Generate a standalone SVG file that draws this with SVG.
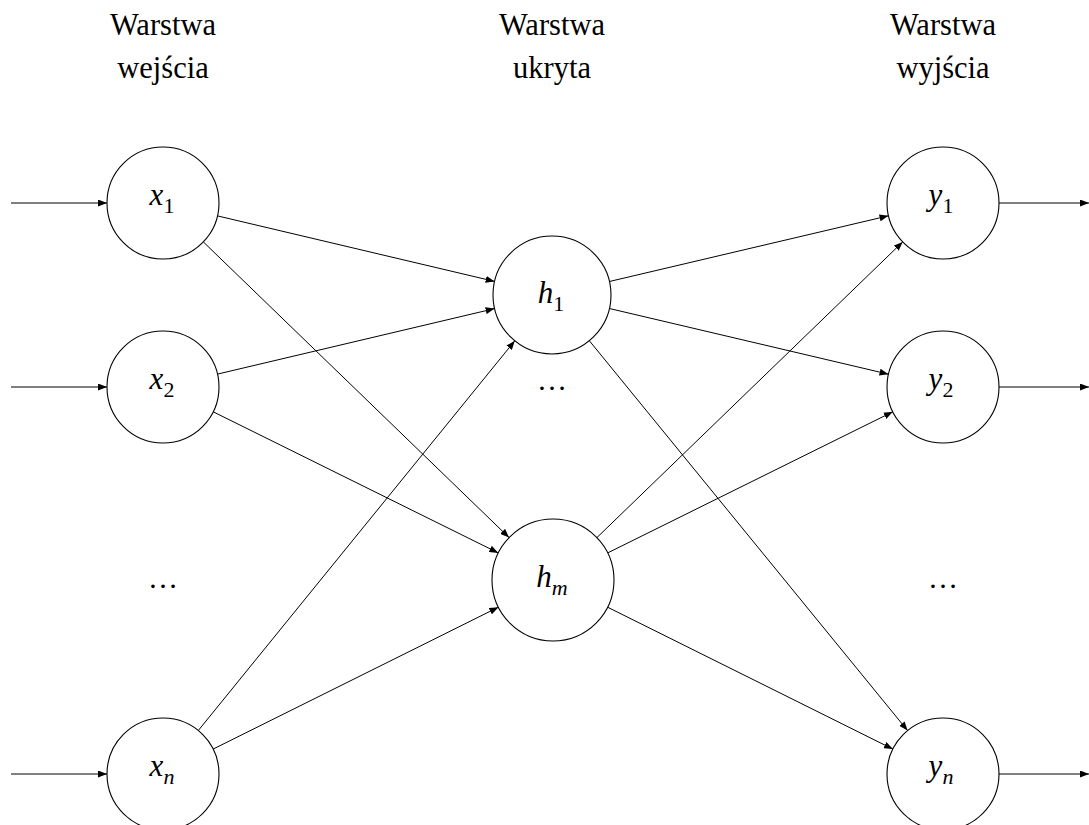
<svg xmlns="http://www.w3.org/2000/svg" width="1089" height="825" viewBox="0 0 1089 825">
<style>
.node{fill:#fff;stroke:#000;stroke-width:1.1}
.edge{stroke:#000;stroke-width:1;fill:none;marker-end:url(#arr)}
.hdr{font-family:'Liberation Serif','Times New Roman',serif;font-size:30.5px;text-anchor:middle;fill:#000}
.m{font-family:'Liberation Serif','Times New Roman',serif;font-style:italic;font-size:31px;text-anchor:middle;fill:#000}
.sub{font-style:normal;font-size:22px}
.msub{font-style:italic;font-size:22px}
.dots{font-family:'Liberation Serif','Times New Roman',serif;font-size:30px;text-anchor:middle;fill:#000}
</style>
<defs>
<marker id="arr" markerUnits="userSpaceOnUse" markerWidth="9" markerHeight="7" refX="9" refY="3.5" orient="auto">
<path d="M0,0 L9,3.5 L0,7 z" fill="#000"/>
</marker>
</defs>
<rect width="1089" height="825" fill="#fff"/>
<g id="headers">
<text class="hdr" x="163" y="35">Warstwa</text>
<text class="hdr" x="163" y="78">wejścia</text>
<text class="hdr" x="552" y="35">Warstwa</text>
<text class="hdr" x="552" y="78">ukryta</text>
<text class="hdr" x="943" y="35">Warstwa</text>
<text class="hdr" x="943" y="78">wyjścia</text>
</g>
<g id="connectors">
<line class="edge" x1="11" y1="203" x2="107" y2="203"/>
<line class="edge" x1="11" y1="387" x2="107" y2="387"/>
<line class="edge" x1="11" y1="774" x2="107" y2="774"/>
<line class="edge" x1="217.5" y1="215.9" x2="494.6" y2="281.4"/>
<line class="edge" x1="203.3" y1="241.9" x2="509.1" y2="537.6"/>
<line class="edge" x1="217.5" y1="374.1" x2="494.6" y2="308.6"/>
<line class="edge" x1="213.2" y1="411.8" x2="498.3" y2="552.9"/>
<line class="edge" x1="198.3" y1="730.5" x2="514.8" y2="340.8"/>
<line class="edge" x1="213.1" y1="749.1" x2="498.4" y2="607.2"/>
<line class="edge" x1="609.4" y1="281.5" x2="888.5" y2="215.8"/>
<line class="edge" x1="609.4" y1="308.5" x2="888.5" y2="374.2"/>
<line class="edge" x1="589.3" y1="340.7" x2="907.6" y2="730.6"/>
<line class="edge" x1="596.9" y1="537.6" x2="902.7" y2="241.9"/>
<line class="edge" x1="607.7" y1="552.9" x2="892.8" y2="411.8"/>
<line class="edge" x1="607.6" y1="607.2" x2="892.9" y2="749.1"/>
<line class="edge" x1="999" y1="203" x2="1089" y2="203"/>
<line class="edge" x1="999" y1="387" x2="1089" y2="387"/>
<line class="edge" x1="999" y1="774" x2="1089" y2="774"/>
</g>
<g id="x1"><circle class="node" cx="163" cy="203" r="56"/><text class="m" x="162" y="205">x<tspan class="sub" dy="8">1</tspan></text></g>
<g id="x2"><circle class="node" cx="163" cy="387" r="56"/><text class="m" x="162" y="389">x<tspan class="sub" dy="8">2</tspan></text></g>
<g id="xn"><circle class="node" cx="163" cy="774" r="56"/><text class="m" x="162" y="776">x<tspan class="msub" dy="8">n</tspan></text></g>
<g id="h1"><circle class="node" cx="552" cy="295" r="59"/><text class="m" x="551" y="303">h<tspan class="sub" dy="8">1</tspan></text></g>
<g id="hm"><circle class="node" cx="553" cy="580" r="61"/><text class="m" x="552" y="587">h<tspan class="msub" dy="8">m</tspan></text></g>
<g id="y1"><circle class="node" cx="943" cy="203" r="56"/><text class="m" x="941" y="205">y<tspan class="sub" dy="8">1</tspan></text></g>
<g id="y2"><circle class="node" cx="943" cy="387" r="56"/><text class="m" x="941" y="389">y<tspan class="sub" dy="8">2</tspan></text></g>
<g id="yn"><circle class="node" cx="943" cy="774" r="56"/><text class="m" x="941" y="776">y<tspan class="msub" dy="8">n</tspan></text></g>
<g id="dots">
<text class="dots" x="163" y="588">…</text>
<text class="dots" x="552" y="390">…</text>
<text class="dots" x="943" y="588">…</text>
</g>
</svg>
